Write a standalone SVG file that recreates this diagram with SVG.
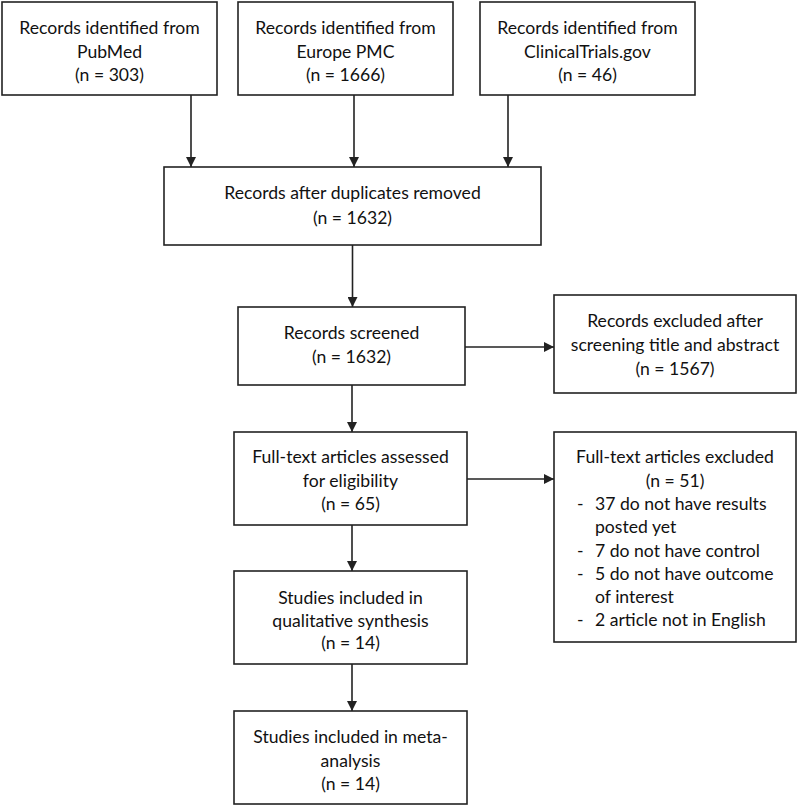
<svg xmlns="http://www.w3.org/2000/svg" width="800" height="807" viewBox="0 0 800 807">
<style>
  .box { fill: #ffffff; stroke: #222222; stroke-width: 1.6; }
  .t { font-family: Lato, "Open Sans", "Liberation Sans", sans-serif; font-size: 17.6px; fill: #111111; text-anchor: middle; }
  .l { font-family: Lato, "Open Sans", "Liberation Sans", sans-serif; font-size: 17.6px; fill: #111111; text-anchor: start; }
  .c { stroke: #222222; stroke-width: 1.6; fill: none; marker-end: url(#ah); }
</style>
<defs>
  <marker id="ah" viewBox="0 0 10 10" refX="10" refY="5" markerWidth="10" markerHeight="10" markerUnits="userSpaceOnUse" orient="auto">
    <path d="M0,0 L10,5 L0,10 Z" fill="#222222"/>
  </marker>
</defs>
<rect width="800" height="807" fill="#ffffff"/>
<g id="connectors">
  <line class="c" x1="191" y1="95" x2="191" y2="167"/>
  <line class="c" x1="354" y1="95" x2="354" y2="167"/>
  <line class="c" x1="508" y1="95" x2="508" y2="167"/>
  <line class="c" x1="352.5" y1="245" x2="352.5" y2="307"/>
  <line class="c" x1="465" y1="347" x2="554" y2="347"/>
  <line class="c" x1="352" y1="385" x2="352" y2="432"/>
  <line class="c" x1="467" y1="479" x2="554" y2="479"/>
  <line class="c" x1="352" y1="525" x2="352" y2="571"/>
  <line class="c" x1="352" y1="664" x2="352" y2="711"/>
</g>
<g id="pubmed">
  <rect class="box" x="2" y="2" width="215" height="93"/>
  <text class="t" x="109.5" y="34">Records identified from</text>
  <text class="t" x="109.5" y="58">PubMed</text>
  <text class="t" x="109.5" y="81">(n = 303)</text>
</g>
<g id="europepmc">
  <rect class="box" x="238" y="2" width="215" height="93"/>
  <text class="t" x="345.5" y="34">Records identified from</text>
  <text class="t" x="345.5" y="58">Europe PMC</text>
  <text class="t" x="345.5" y="81">(n = 1666)</text>
</g>
<g id="clinicaltrials">
  <rect class="box" x="480" y="2" width="215" height="93"/>
  <text class="t" x="587.5" y="34">Records identified from</text>
  <text class="t" x="587.5" y="58">ClinicalTrials.gov</text>
  <text class="t" x="587.5" y="81">(n = 46)</text>
</g>
<g id="duplicates">
  <rect class="box" x="164" y="167" width="377" height="78"/>
  <text class="t" x="352.5" y="199">Records after duplicates removed</text>
  <text class="t" x="352.5" y="224">(n = 1632)</text>
</g>
<g id="screened">
  <rect class="box" x="238" y="307" width="227" height="78"/>
  <text class="t" x="351.5" y="339">Records screened</text>
  <text class="t" x="351.5" y="363">(n = 1632)</text>
</g>
<g id="excluded1">
  <rect class="box" x="554" y="295" width="242" height="98"/>
  <text class="t" x="675" y="327">Records excluded after</text>
  <text class="t" x="675" y="351">screening title and abstract</text>
  <text class="t" x="675" y="375">(n = 1567)</text>
</g>
<g id="fulltext">
  <rect class="box" x="234" y="432" width="233" height="93"/>
  <text class="t" x="350.5" y="463">Full-text articles assessed</text>
  <text class="t" x="350.5" y="487">for eligibility</text>
  <text class="t" x="350.5" y="510">(n = 65)</text>
</g>
<g id="excluded2">
  <rect class="box" x="554" y="432" width="242" height="210"/>
  <text class="t" x="675" y="463">Full-text articles excluded</text>
  <text class="t" x="675" y="487">(n = 51)</text>
  <text class="l" x="577" y="510">-</text><text class="l" x="595" y="510">37 do not have results</text>
  <text class="l" x="595" y="533">posted yet</text>
  <text class="l" x="577" y="557">-</text><text class="l" x="595" y="557">7 do not have control</text>
  <text class="l" x="577" y="580">-</text><text class="l" x="595" y="580">5 do not have outcome</text>
  <text class="l" x="595" y="603">of interest</text>
  <text class="l" x="577" y="626">-</text><text class="l" x="595" y="626">2 article not in English</text>
</g>
<g id="qualitative">
  <rect class="box" x="234" y="571" width="233" height="93"/>
  <text class="t" x="350.5" y="604">Studies included in</text>
  <text class="t" x="350.5" y="627">qualitative synthesis</text>
  <text class="t" x="350.5" y="649">(n = 14)</text>
</g>
<g id="meta">
  <rect class="box" x="234" y="711" width="233" height="93"/>
  <text class="t" x="350.5" y="743">Studies included in meta-</text>
  <text class="t" x="350.5" y="767">analysis</text>
  <text class="t" x="350.5" y="790">(n = 14)</text>
</g>
</svg>
